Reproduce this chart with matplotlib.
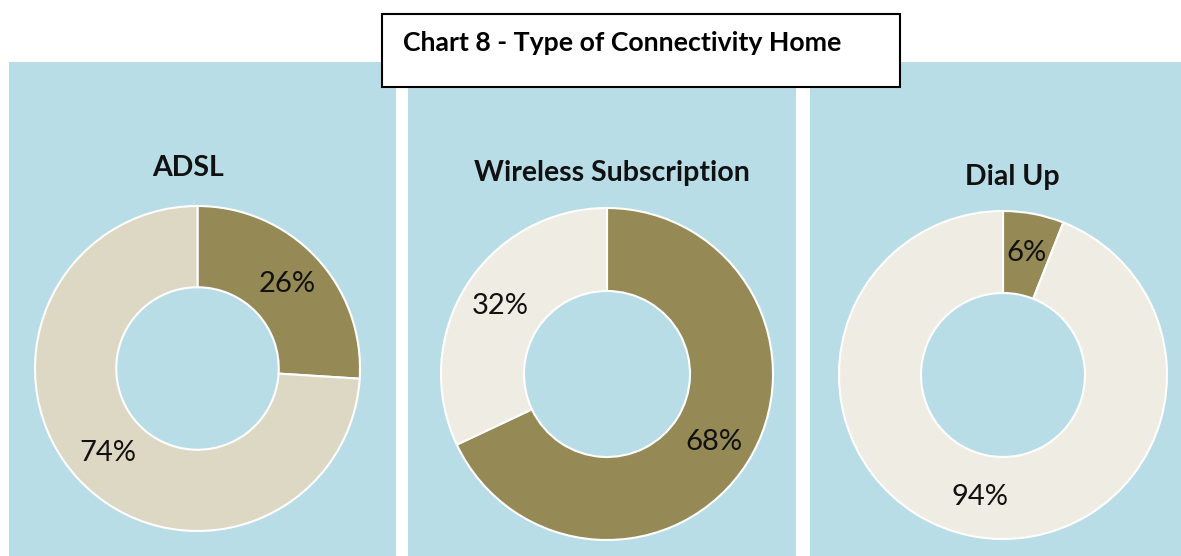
import matplotlib
matplotlib.use("Agg")
import matplotlib.pyplot as plt
from matplotlib.patches import Rectangle

titulo = "Chart 8 - Type of Connectivity Home"
nombres = ["ADSL", "Wireless Subscription", "Dial Up"]
# primer valor = olivo, segundo = claro (en sentido horario desde arriba)
valores = [[26, 74], [68, 32], [6, 94]]

fondo = "#b8dde6"
olivo = "#958a55"
claros = ["#ddd8c4", "#efece3", "#efece3"]

plt.rcParams['font.family'] = ['Lato', 'DejaVu Sans']

W, H = 1181, 556
fig = plt.figure(figsize=(W / 100, H / 100), dpi=100)
fig.patch.set_facecolor("white")

def fx(x):
    return x / W

def fy(y):
    return 1 - y / H

#paneles azules
paneles = [(9, 396), (408, 796), (810, 1181)]
for x0, x1 in paneles:
    fig.patches.append(Rectangle((fx(x0), 0), fx(x1 - x0), fy(62), transform=fig.transFigure,
                                 facecolor=fondo, edgecolor="none", zorder=-2))

#donas
centros = [(197.5, 368.5, 162.5), (607, 374, 166), (1003, 375, 164)]
titulos_pos = [(188, 168), (612, 173), (1012, 177)]
for i, (cx, cy, r) in enumerate(centros):
    ax = fig.add_axes([fx(cx - r), fy(cy + r), fx(2 * r), (2 * r) / H])
    ax.pie(valores[i], colors=[olivo, claros[i]], startangle=90, counterclock=False,
           radius=1, wedgeprops=dict(width=0.5, edgecolor="white", linewidth=1.5),
           autopct=lambda p: '{:.0f}%'.format(p), pctdistance=0.76,
           textprops=dict(fontsize=21, color="#111111"))
    ax.set_xlim(-1, 1)
    ax.set_ylim(-1, 1)
    ax.set_aspect("equal")
    ax.patch.set_alpha(0)
    for w in ax.patches:
        w.set_clip_on(False)
    tx, ty = titulos_pos[i]
    fig.text(fx(tx), fy(ty), nombres[i], ha="center", va="center", fontsize=20.5,
             fontweight="bold", color="#111111")

#caja del titulo
fig.patches.append(Rectangle((fx(382), fy(87)), fx(900 - 382), (87 - 14) / H,
                             transform=fig.transFigure, facecolor="white",
                             edgecolor="black", linewidth=1.5, zorder=5))
fig.text(fx(403), fy(43), titulo, ha="left", va="center", fontsize=19.2,
         fontweight="bold", color="black", zorder=6)

plt.savefig("out.png", dpi=100)
